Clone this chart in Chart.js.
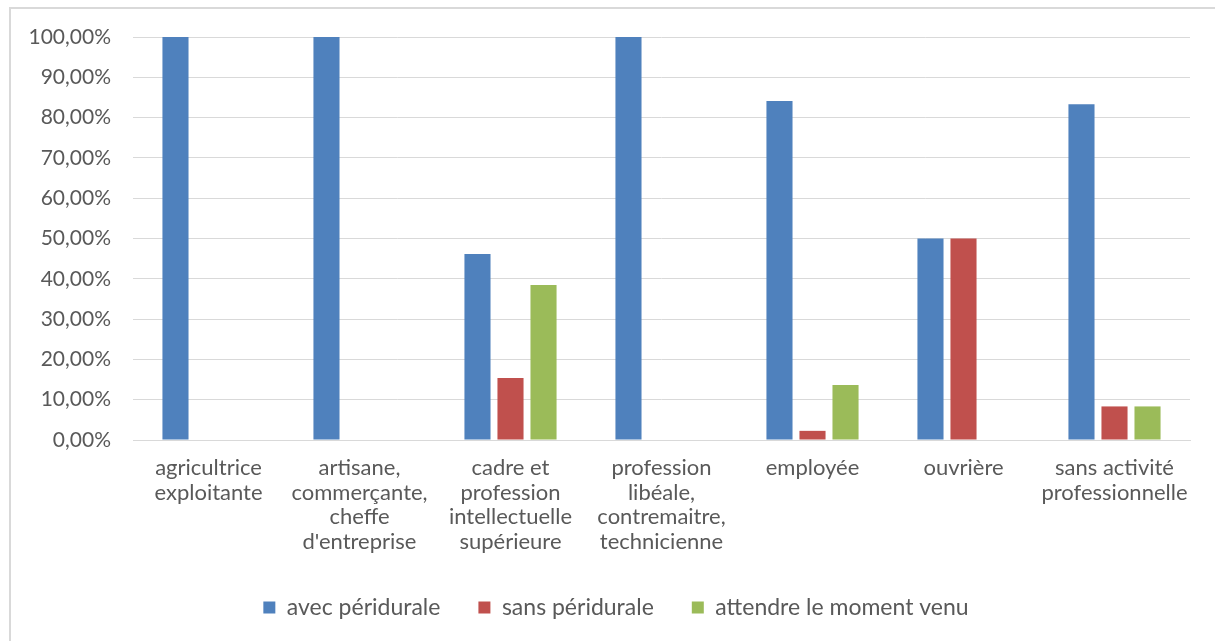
<!DOCTYPE html>
<html lang="fr">
<head>
<meta charset="utf-8">
<title>Péridurale selon la catégorie socioprofessionnelle</title>
<script src="https://cdn.jsdelivr.net/npm/chart.js@4/dist/chart.umd.min.js"></script>
<style>
  html, body { margin: 0; padding: 0; background: #ffffff; }
  #wrap { position: relative; width: 1215px; height: 641px; }
</style>
</head>
<body>
<div id="wrap"><canvas id="chart" width="1215" height="641"></canvas></div>
<script>
// Catégories socioprofessionnelles (libellés sur plusieurs lignes)
const categories = [
  ["agricultrice", "exploitante"],
  ["artisane,", "commerçante,", "cheffe", "d'entreprise"],
  ["cadre et", "profession", "intellectuelle", "supérieure"],
  ["profession", "libéale,", "contremaitre,", "technicienne"],
  ["employée"],
  ["ouvrière"],
  ["sans activité", "professionnelle"]
];

// Parts en pourcentage pour chaque réponse
const avecPeridurale = [100, 100, 46.15, 100, 84.09, 50, 83.33];
const sansPeridurale = [0, 0, 15.38, 0, 2.27, 50, 8.33];
const attendreMoment = [0, 0, 38.46, 0, 13.64, 0, 8.33];

const seriesNames = ["avec péridurale", "sans péridurale", "attendre le moment venu"];
const seriesColors = ["#4f81bd", "#c0504d", "#9bbb59"];

const FONT = "Lato, 'Open Sans', sans-serif";
const TEXT = "#595959";

// Fond blanc et bord gris (haut et gauche) de la zone du graphique
const frame = {
  id: "frame",
  beforeDraw(chart) {
    const c = chart.ctx;
    c.save();
    c.fillStyle = "#ffffff";
    c.fillRect(0, 0, chart.width, chart.height);
    c.strokeStyle = "#d9d9d9";
    c.lineWidth = 2;
    c.beginPath();
    c.moveTo(10, chart.height);
    c.lineTo(10, 8);
    c.lineTo(chart.width, 8);
    c.stroke();
    c.restore();
  }
};

// Centre la légende sur toute la largeur du cadre plutôt que sur la zone restante
const legendShift = {
  id: "legendShift",
  afterLayout(chart) {
    if (chart.legend) {
      chart.legend.left += 16;
      chart.legend.right += 16;
    }
  }
};

const fmt = v => v.toFixed(2).replace(".", ",") + "%";

new Chart(document.getElementById("chart"), {
  type: "bar",
  data: {
    labels: categories,
    datasets: [avecPeridurale, sansPeridurale, attendreMoment].map((d, i) => ({
      label: seriesNames[i],
      data: d,
      backgroundColor: seriesColors[i],
      borderWidth: 0,
      categoryPercentage: 0.656,
      barPercentage: 0.79
    }))
  },
  options: {
    responsive: false,
    animation: false,
    layout: { padding: { left: 10, right: 25, top: 37, bottom: 12 } },
    plugins: {
      tooltip: { enabled: false },
      legend: {
        position: "bottom",
        labels: {
          font: { family: FONT, size: 23 },
          color: TEXT,
          boxWidth: 12,
          boxHeight: 12,
          padding: 38
        }
      }
    },
    scales: {
      x: {
        grid: { display: false, drawTicks: false },
        border: { display: true, color: "#d9d9d9", width: 1 },
        ticks: {
          font: { family: FONT, size: 22, lineHeight: 1.11 },
          color: TEXT,
          padding: 16,
          maxRotation: 0,
          autoSkip: false
        },
        afterFit(s) { s.height = 118; }
      },
      y: {
        min: 0,
        max: 100,
        grid: { color: "#d9d9d9", lineWidth: 1, drawTicks: false },
        border: { display: false },
        ticks: {
          stepSize: 10,
          font: { family: FONT, size: 21 },
          color: TEXT,
          padding: 22,
          callback: v => fmt(v)
        },
        afterFit(s) { s.width = 123; }
      }
    }
  },
  plugins: [frame, legendShift]
});
</script>
</body>
</html>
